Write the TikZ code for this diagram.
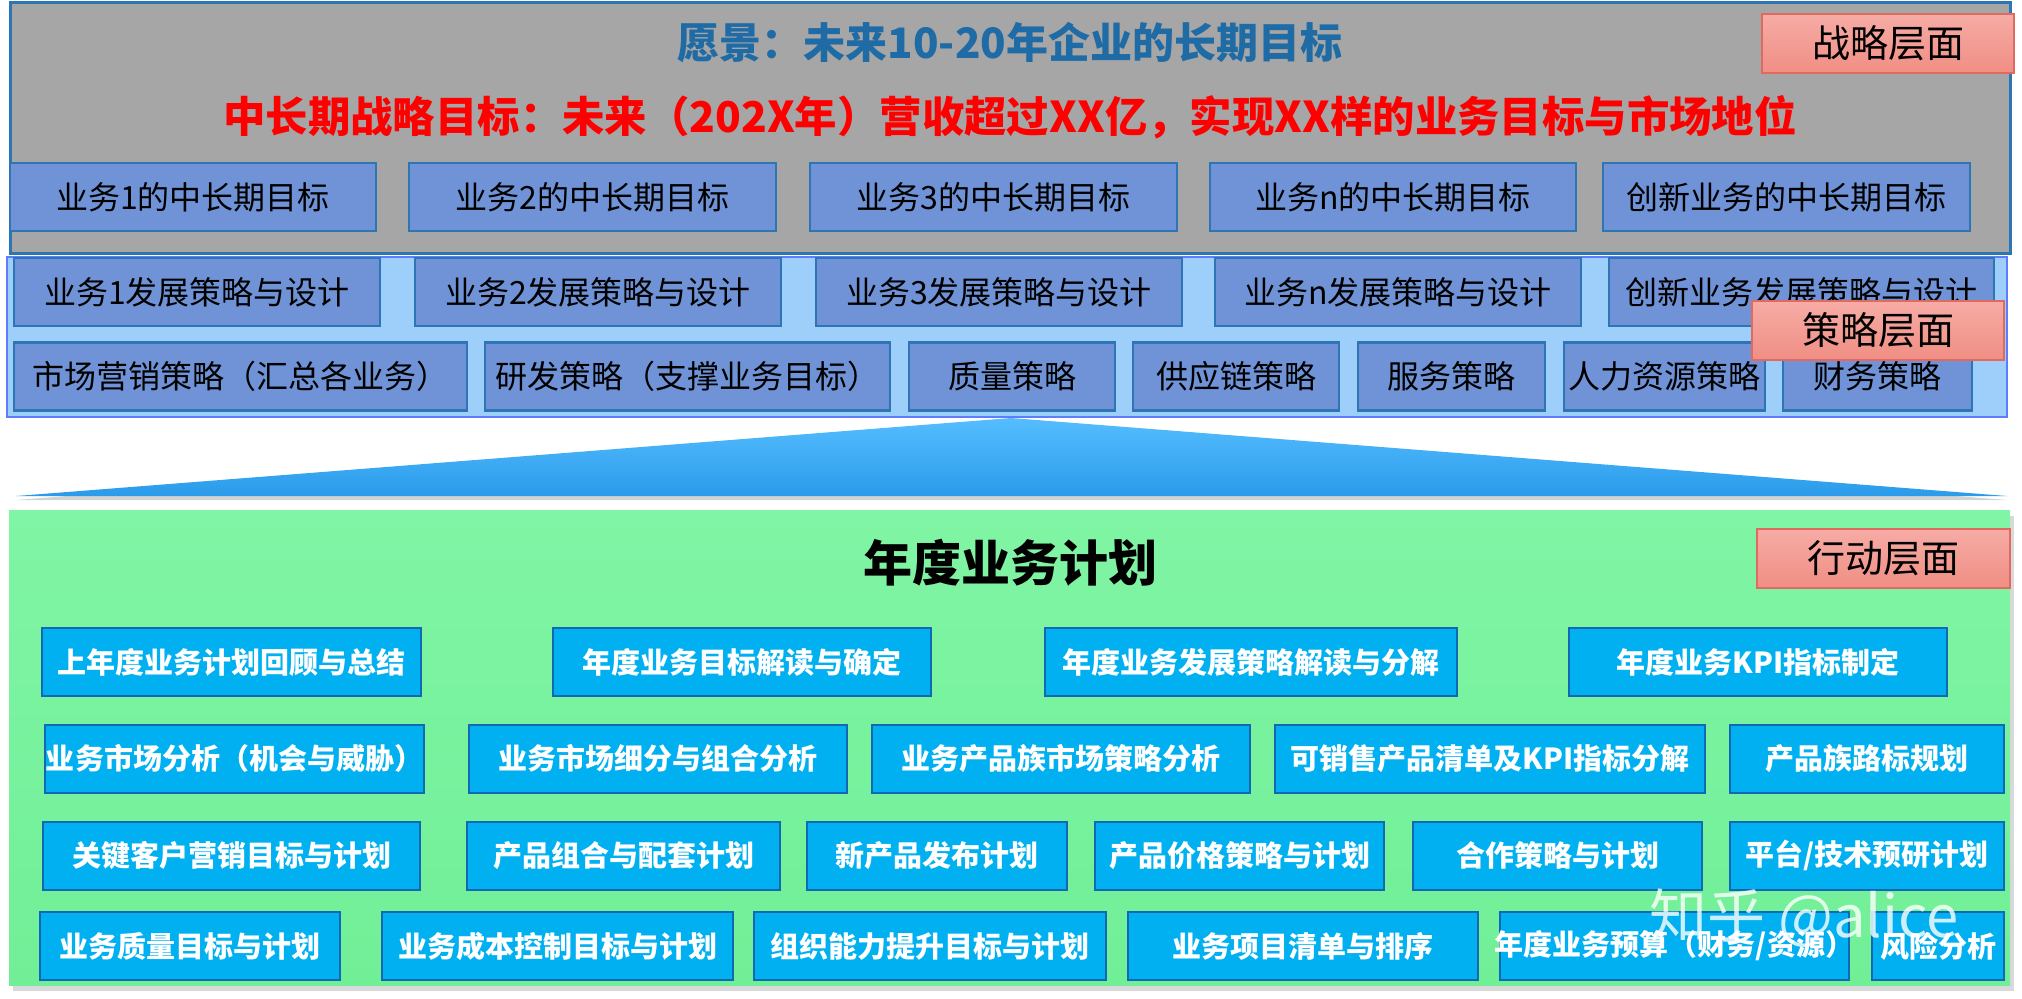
\documentclass[tikz,border=0pt]{standalone}
\usepackage{fontspec}
\setmainfont{Noto Sans CJK SC}
\usetikzlibrary{fit}
\usetikzlibrary{shadows}
\definecolor{panelgray}{HTML}{A6A6A6}
\definecolor{panelblue}{HTML}{2E75B6}
\definecolor{stratsky}{HTML}{9DCFFA}
\definecolor{goalfill}{HTML}{6F93D6}
\definecolor{actfill}{HTML}{00B0F0}
\definecolor{actline}{HTML}{1268B3}
\definecolor{planfill}{HTML}{80F5A5}
\definecolor{planlow}{HTML}{71EF97}
\definecolor{wedgetop}{HTML}{55BDFF}
\definecolor{wedgelow}{HTML}{2A9BEA}
\definecolor{visionblue}{HTML}{1F6BA5}
\definecolor{layertop}{HTML}{F6ACA5}
\definecolor{layerlow}{HTML}{F08E84}
\definecolor{layerline}{HTML}{E06A60}
\tikzstyle{goal} = [rectangle, draw=panelblue, line width=1.3pt, fill=goalfill, inner sep=0pt, minimum height=34pt, text=black, font=\fontsize{16}{16}\selectfont]
\tikzstyle{action} = [rectangle, draw=actline, line width=1pt, fill=actfill, inner sep=0pt, minimum height=34pt, text=white, font=\bfseries\fontsize{14.5}{14.5}\selectfont]
\tikzstyle{layer} = [rectangle, draw=layerline, line width=0.7pt, top color=layertop, bottom color=layerlow, inner sep=0pt, minimum width=126pt, minimum height=29.5pt, font=\fontsize{19}{19}\selectfont]
\tikzstyle{headline} = [inner sep=0pt, font=\bfseries\fontsize{21.2}{21.2}\selectfont]

\begin{document}
\begin{tikzpicture}[x=0.5pt, y=-0.5pt]

    \useasboundingbox (0,0) rectangle (2022,998);

    \node (strategic) [rectangle, inner sep=0pt, fill=panelgray, draw=panelblue, line width=1.5pt, fit={(10,2) (2010,253)}] {};
    \node (tactical) [rectangle, inner sep=0pt, fill=stratsky, draw=stratsky!60!blue, line width=0.6pt, fit={(7,257) (2007,417)}] {};
    \shade [top color=wedgetop, bottom color=wedgelow, drop shadow={shadow xshift=0pt, shadow yshift=-2pt, opacity=0.35}] (16,496) -- (1011,418) -- (2007,496) -- cycle;
    \node (operational) [rectangle, inner sep=0pt, top color=planfill, bottom color=planlow, drop shadow={shadow xshift=2pt, shadow yshift=-3pt, opacity=0.3}, fit={(9,510) (2010,985)}] {};

    \node (vision) at (1010,43) [headline, text=visionblue, font=\bfseries\fontsize{21}{21}\selectfont] {愿景：未来10-20年企业的长期目标};
    \node (midterm) at (1010,117) [headline, text=red] {中长期战略目标：未来（202X年）营收超过XX亿，实现XX样的业务目标与市场地位};

    \node (goal1) at (193,197) [goal, minimum width=183pt] {业务1的中长期目标};
    \node (goal2) at (592.5,197) [goal, minimum width=183.5pt] {业务2的中长期目标};
    \node (goal3) at (993.5,197) [goal, minimum width=183.5pt] {业务3的中长期目标};
    \node (goaln) at (1393,197) [goal, minimum width=183pt] {业务n的中长期目标};
    \node (goalnew) at (1786.5,197) [goal, minimum width=183.5pt] {创新业务的中长期目标};

    \node (design1) at (197,292) [goal, minimum width=183pt] {业务1发展策略与设计};
    \node (design2) at (598,292) [goal, minimum width=183pt] {业务2发展策略与设计};
    \node (design3) at (999,292) [goal, minimum width=183pt] {业务3发展策略与设计};
    \node (designn) at (1398,292) [goal, minimum width=183pt] {业务n发展策略与设计};
    \node (designnew) at (1801.5,292) [goal, minimum width=192.5pt] {创新业务发展策略与设计};

    \node (marketing) at (240.5,376.5) [goal, minimum width=226.5pt] {市场营销策略（汇总各业务）};
    \node (research) at (687.5,376.5) [goal, minimum width=202.5pt] {研发策略（支撑业务目标）};
    \node (quality) at (1012,376.5) [goal, minimum width=103pt] {质量策略};
    \node (supply) at (1236,376.5) [goal, minimum width=103pt] {供应链策略};
    \node (service) at (1451.5,376.5) [goal, minimum width=93.5pt] {服务策略};
    \node (people) at (1664.5,376.5) [goal, minimum width=100.5pt] {人力资源策略};
    \node (finance) at (1877.5,376.5) [goal, minimum width=94.5pt] {财务策略};

    \node (annual) at (1010,563) [headline, text=black, font=\bfseries\fontsize{24.5}{24.5}\selectfont] {年度业务计划};

    \node (review) at (231.5,662) [action, minimum width=189.5pt] {上年度业务计划回顾与总结};
    \node (target) at (742,662) [action, minimum width=189pt] {年度业务目标解读与确定};
    \node (breakdown) at (1251,662) [action, minimum width=206pt] {年度业务发展策略解读与分解};
    \node (kpi) at (1758,662) [action, minimum width=189pt] {年度业务KPI指标制定};

    \node (analysis) at (234.5,758.5) [action, minimum width=189.5pt] {业务市场分析（机会与威胁）};
    \node (segment) at (658,758.5) [action, minimum width=189pt] {业务市场细分与组合分析};
    \node (family) at (1061,758.5) [action, minimum width=189pt] {业务产品族市场策略分析};
    \node (saleable) at (1490,758.5) [action, minimum width=215pt] {可销售产品清单及KPI指标分解};
    \node (roadmap) at (1867,758.5) [action, minimum width=137pt] {产品族路标规划};

    \node (keyacct) at (231.5,855.5) [action, minimum width=188.5pt] {关键客户营销目标与计划};
    \node (bundle) at (623.5,855.5) [action, minimum width=156.5pt] {产品组合与配套计划};
    \node (launch) at (937,855.5) [action, minimum width=130pt] {新产品发布计划};
    \node (pricing) at (1239.5,855.5) [action, minimum width=144.5pt] {产品价格策略与计划};
    \node (partner) at (1557.5,855.5) [action, minimum width=144.5pt] {合作策略与计划};
    \node (platform) at (1867,855.5) [action, minimum width=137pt] {平台/技术预研计划};

    \node (qualplan) at (190,946) [action, minimum width=150pt] {业务质量目标与计划};
    \node (cost) at (557.5,946) [action, minimum width=175.5pt] {业务成本控制目标与计划};
    \node (capability) at (930,946) [action, minimum width=176pt] {组织能力提升目标与计划};
    \node (projects) at (1303,946) [action, minimum width=175pt] {业务项目清单与排序};
    \node (budget) at (1674.5,946) [action, minimum width=174.5pt] {\makebox[0pt]{年度业务预算（财务/资源）}};
    \node (risk) at (1938,946) [action, minimum width=66pt] {风险分析};

    \node (strategylayer) at (1888,43.5) [layer] {战略层面};
    \node (tacticlayer) at (1878,330.5) [layer] {策略层面};
    \node (actionlayer) at (1883.5,558.5) [layer, minimum width=126.5pt] {行动层面};

    \node (mark) at (1804,918) [text=white, opacity=0.8, font=\fontsize{29}{29}\selectfont] {知乎 @alice};

\end{tikzpicture}
\end{document}
